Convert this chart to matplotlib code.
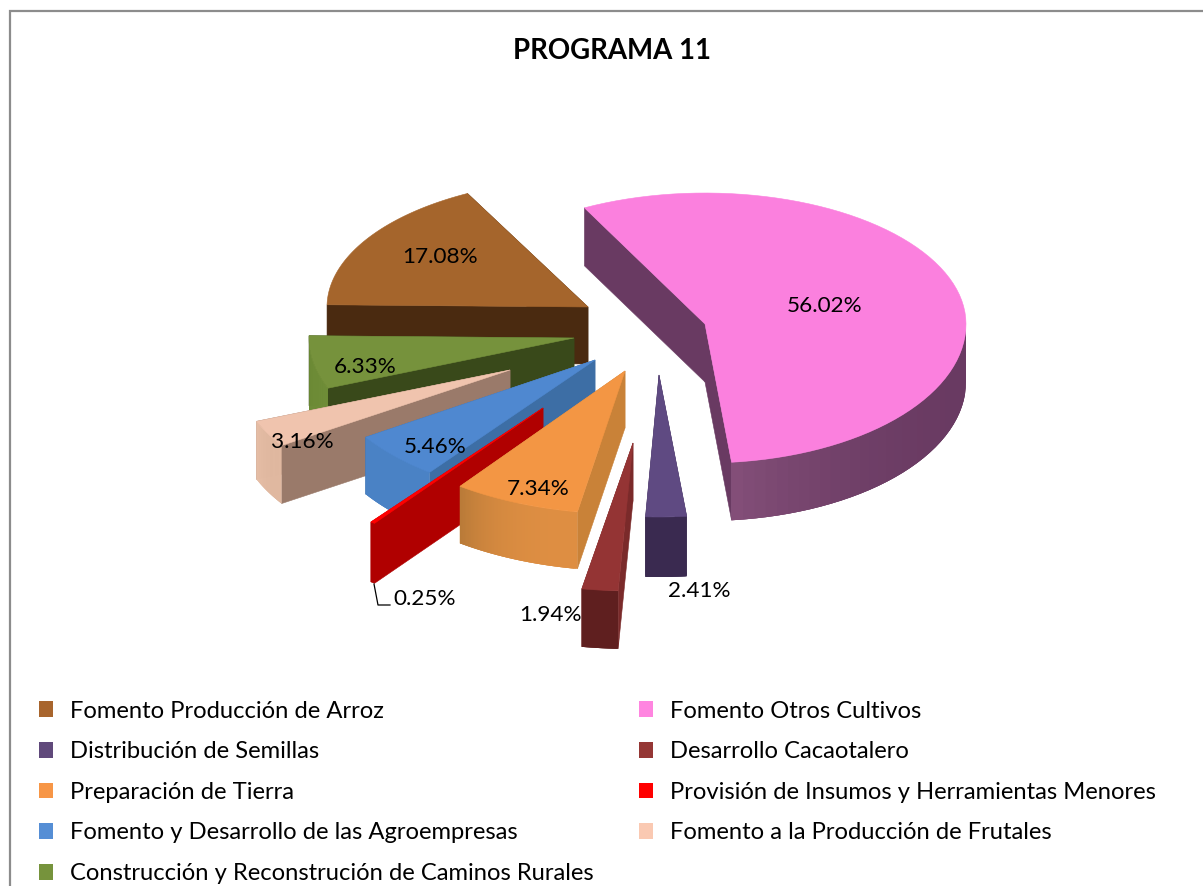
import numpy as np
import matplotlib
matplotlib.use("Agg")
import matplotlib.pyplot as plt
from matplotlib.patches import Polygon, Patch
from matplotlib.colors import to_rgb

# ---- data ----
categories = ["Fomento Producción de Arroz", "Fomento Otros Cultivos", "Distribución de Semillas",
              "Desarrollo Cacaotalero", "Preparación de Tierra", "Provisión de Insumos y Herramientas Menores",
              "Fomento y Desarrollo de las Agroempresas", "Fomento a la Producción de Frutales",
              "Construcción y Reconstrución de Caminos Rurales"]
values = [17.08, 56.02, 2.41, 1.94, 7.34, 0.25, 5.46, 3.16, 6.33]
title = "PROGRAMA 11"

# ---- layout (pixels of the page) ----
W, H = 1203, 886
START = -89.0
apex_x = [588, 705, 659, 633, 625, 543, 595, 510, 574]
apex_y = [307, 324, 375, 443, 371, 408, 360, 370, 338]
rad_x = [261, 261, 272, 300, 279, 285, 274, 273, 265]
ry_back = [128, 131, 142, 148, 143, 143, 141, 138, 135]
ry_front = [128, 139, 142, 148, 143, 143, 141, 138, 135]
wall = [57, 58, 60, 58, 57, 60, 57, 58, 70]
draw_order = [0, 1, 8, 7, 6, 5, 4, 3, 2]
label_x = [440, 825, 699, 550, 538, 425, 435, 302, 365]
label_y = [257, 306, 591, 615, 489, 599, 447, 442, 367]

# ---- colours ----
top_c = ["#a5652c", "#fb80de", "#5f4a82", "#943434", "#f39644", "#ff0000", "#4f88d0", "#f0c4ae", "#76923c"]
key_c = ["#a8652d", "#ff85e0", "#60497b", "#953735", "#f79646", "#ff0000", "#558ed5", "#fac9b2", "#76933c"]
inner_c = ["#4a2a10", "#693a62", "#3a2a50", "#7a2a2a", "#c98238", "#b00000", "#3d6ea5", "#9a7a6a", "#39491a"]
outer_a = ["#4a2a10", "#693a62", "#3a2a50", "#5f1f1f", "#de8e42", "#b00000", "#4a82c5", "#e0b8a0", "#6e8c37"]
outer_b = ["#4a2a10", "#85507a", "#3a2a50", "#5f1f1f", "#b87a38", "#b00000", "#4a82c5", "#e8c0a8", "#6e8c37"]

fig = plt.figure(figsize=(W / 100, H / 100), dpi=100, facecolor="white")
ax = fig.add_axes([0, 0, 1, 1])
ax.set_xlim(0, W)
ax.set_ylim(H, 0)
ax.axis("off")

plt.rcParams["font.family"] = ["Lato", "DejaVu Sans"]

# chart border: left and top only reach the picture
ax.plot([10, 10, W + 5], [H + 5, 10.5, 10.5], color="#8c8c8c", lw=1.6, solid_joinstyle="miter", zorder=1)


def arc(i, t0, t1, n=80):
    th = np.radians(np.linspace(t0, t1, n))
    c = np.cos(th)
    ry = np.where(c > 0, ry_back[i], ry_front[i])
    return apex_x[i] + rad_x[i] * np.sin(th), apex_y[i] - ry * c


edges = START + np.concatenate([[0], np.cumsum(values)]) * 3.6
z = 3
for i in draw_order:
    t0, t1 = edges[i], edges[i + 1]
    xs, ys = arc(i, t0, t1)
    h = wall[i]
    # radial walls
    for k in (0, -1):
        ax.add_patch(Polygon([(apex_x[i], apex_y[i]), (xs[k], ys[k]), (xs[k], ys[k] + h), (apex_x[i], apex_y[i] + h)],
                             closed=True, fc=inner_c[i], ec=inner_c[i], lw=0.4, zorder=z))
    # outer wall, front half only; each strip overlaps the next so no seams show
    front = np.cos(np.radians(np.linspace(t0, t1, 80))) < 0.02
    idx = np.where(front)[0]
    ca, cb = np.array(to_rgb(outer_a[i])), np.array(to_rgb(outer_b[i]))
    for a in idx[:-1]:
        b = min(a + 3, idx[-1])
        f = (a - idx[0]) / max(1, idx[-1] - idx[0])
        col = ca + (cb - ca) * f ** 3
        ax.add_patch(Polygon(np.column_stack([np.r_[xs[a:b + 1], xs[a:b + 1][::-1]],
                                              np.r_[ys[a:b + 1], ys[a:b + 1][::-1] + h]]),
                             closed=True, fc=col, ec="none", lw=0, zorder=z))
    # top face
    ax.add_patch(Polygon(np.column_stack([np.r_[apex_x[i], xs], np.r_[apex_y[i], ys]]), closed=True,
                         fc=top_c[i], ec=top_c[i], lw=0.4, zorder=z + 0.5))
    z += 1

# data labels
for i, v in enumerate(values):
    ax.text(label_x[i], label_y[i], f"{v:.2f}%", ha="center", va="center", fontsize=16.2, color="black", zorder=40)
# leader line of the smallest slice
ax.plot([374, 378, 390], [584, 605, 605], color="black", lw=0.9, zorder=40)

ax.text(612, 51, title, ha="center", va="center", fontsize=19.9, fontweight="bold", color="black", zorder=40)

# legend: column-wise order gives the reference's row-wise reading
left = [0, 2, 4, 6, 8]
right = [1, 3, 5, 7]
order = left + right
handles = [Patch(fc=key_c[i], ec="none", label=categories[i]) for i in order]
fs = 17.1
px = fs * 100 / 72
leg = ax.legend(handles=handles, ncol=2, loc="upper left", bbox_to_anchor=(39 / W, 1 - 700.5 / H),
                bbox_transform=fig.transFigure, frameon=False, fontsize=fs, borderpad=0, borderaxespad=0,
                handlelength=14 / px, handleheight=15 / px, handletextpad=17 / px,
                labelspacing=(40.7 - px + 2.7) / px, columnspacing=(644 - 39 - 14 - 17 - 529) / px)
leg.set_zorder(40)

fig.savefig("out.png", dpi=100)
